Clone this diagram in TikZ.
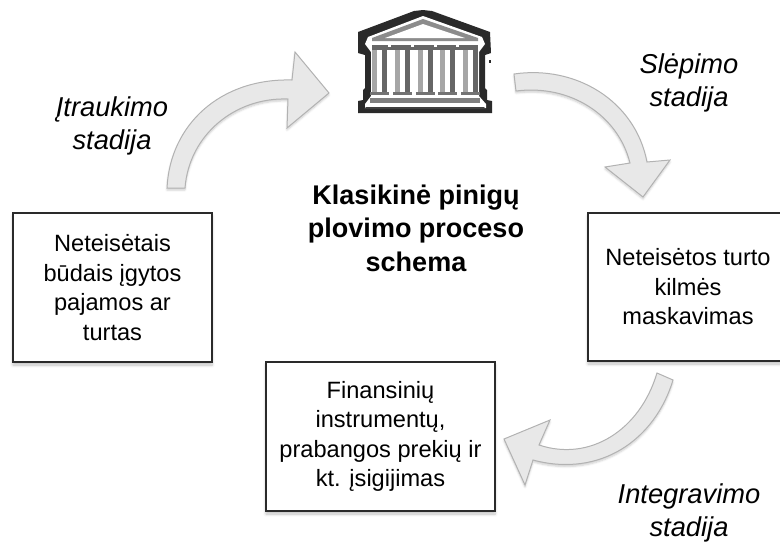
\documentclass[tikz,border=0pt]{standalone}
\usepackage{fontspec}
\setmainfont{Liberation Sans}
\usetikzlibrary{shadows,shadows.blur}
\definecolor{inkc}{HTML}{2A2A2A}
\tikzset{
  x=1pt,y=-1pt,
  boxn/.style={draw=inkc,line width=1.8pt,fill=white,align=center,inner sep=0pt,
    font=\fontsize{23.6}{29.5}\selectfont,blur shadow={shadow xshift=0pt,shadow yshift=-3pt,shadow blur steps=6,shadow opacity=25,shadow blur radius=3pt}},
  stagen/.style={align=center,inner sep=0pt,font=\fontsize{27.3}{33}\selectfont\itshape},
  titlen/.style={align=center,inner sep=0pt,font=\fontsize{27}{33.5}\selectfont\bfseries},
  blockarrow/.style={draw=black!30,line width=1pt,fill=black!9,line join=miter,
    blur shadow={shadow xshift=0pt,shadow yshift=-2pt,shadow blur steps=5,shadow opacity=20,shadow blur radius=2pt}},
}
\begin{document}
\begin{tikzpicture}
\useasboundingbox (0,0) rectangle (780,542);
\clip (0,0) rectangle (780,542);
% block arrows
\draw[blockarrow] (167,188) .. controls (170,125) and (220,78) .. (292,80) -- (295,52) -- (329,93) -- (287,128) -- (288,99) .. controls (235,97) and (189,135) .. (185,188) -- cycle;
\draw[blockarrow] (514,74) .. controls (575,65) and (635,100) .. (647,162) -- (670,160) -- (643,197) -- (605,167) -- (630,163) .. controls (618,115) and (570,84) .. (516,91) -- cycle;
\draw[blockarrow] (673,380) .. controls (655,440) and (600,478) .. (533,460) -- (525,485) -- (504,439) -- (550,420) -- (539,445) .. controls (590,462) and (640,430) .. (657,373) -- cycle;
% boxes
\node[boxn,minimum width=199pt,minimum height=149pt] (src) at (112.5,287.5) {Neteisėtais\\būdais įgytos\\pajamos ar\\turtas};
\node[boxn,minimum width=200pt,minimum height=148pt] (mask) at (688,287) {Neteisėtos turto\\kilmės\\maskavimas};
\node[boxn,minimum width=229pt,minimum height=149pt] (fin) at (380.5,436.5) {Finansinių\\instrumentų,\\prabangos prekių ir\\kt. įsigijimas};
% labels
\node[titlen] (title) at (416,228) {Klasikinė pinigų\\plovimo proceso\\schema};
\node[stagen] (s1) at (112,125.5) {Įtraukimo\\stadija};
\node[stagen] (s2) at (689,83) {Slėpimo\\stadija};
\node[stagen] (s3) at (689,513) {Integravimo\\stadija};
% bank building
\fill[inkc] (423,10) -- (432,11) -- (490,32) -- (491,53) -- (485,55) -- (485,88) -- (487,90) -- (487,100) -- (492,101) -- (492,113) -- (358,113) -- (358,101) -- (363,100) -- (363,90) -- (365,88) -- (365,55) -- (358,53) -- (358,32) -- (414,11) -- cycle;
\fill[white] (423,16) -- (482,37) -- (485,44) -- (479,52) -- (479,96) -- (486,104) -- (486,108) -- (365,108) -- (365,104) -- (371,96) -- (371,52) -- (365,44) -- (368,37) -- cycle;
\fill[black!45] (423,19) -- (478,38) -- (478,41) -- (372,41) -- (372,38) -- cycle;
\fill[white] (423,24) -- (465,38) -- (385,38) -- cycle;
\fill[black!60] (372,45) rectangle (478,50);
\foreach \lx in {372,395,418,440,463}{
  \fill[black!35] (\lx,50) rectangle (\lx+5,93);
  \fill[black!60] (\lx+10,50) rectangle (\lx+15,93);
  \fill[black!55] (\lx-2,92) rectangle (\lx+17,95);
  \fill[white] (\lx+15.5,44.5) rectangle (\lx+18.5,47);
}
\fill[black!50] (370,98) rectangle (480,103);
\fill[black!75] (366,107) -- (484,107) -- (486,109) -- (364,109) -- cycle;
\fill[inkc] (488.5,60) rectangle (491,62.5);
\end{tikzpicture}
\end{document}
